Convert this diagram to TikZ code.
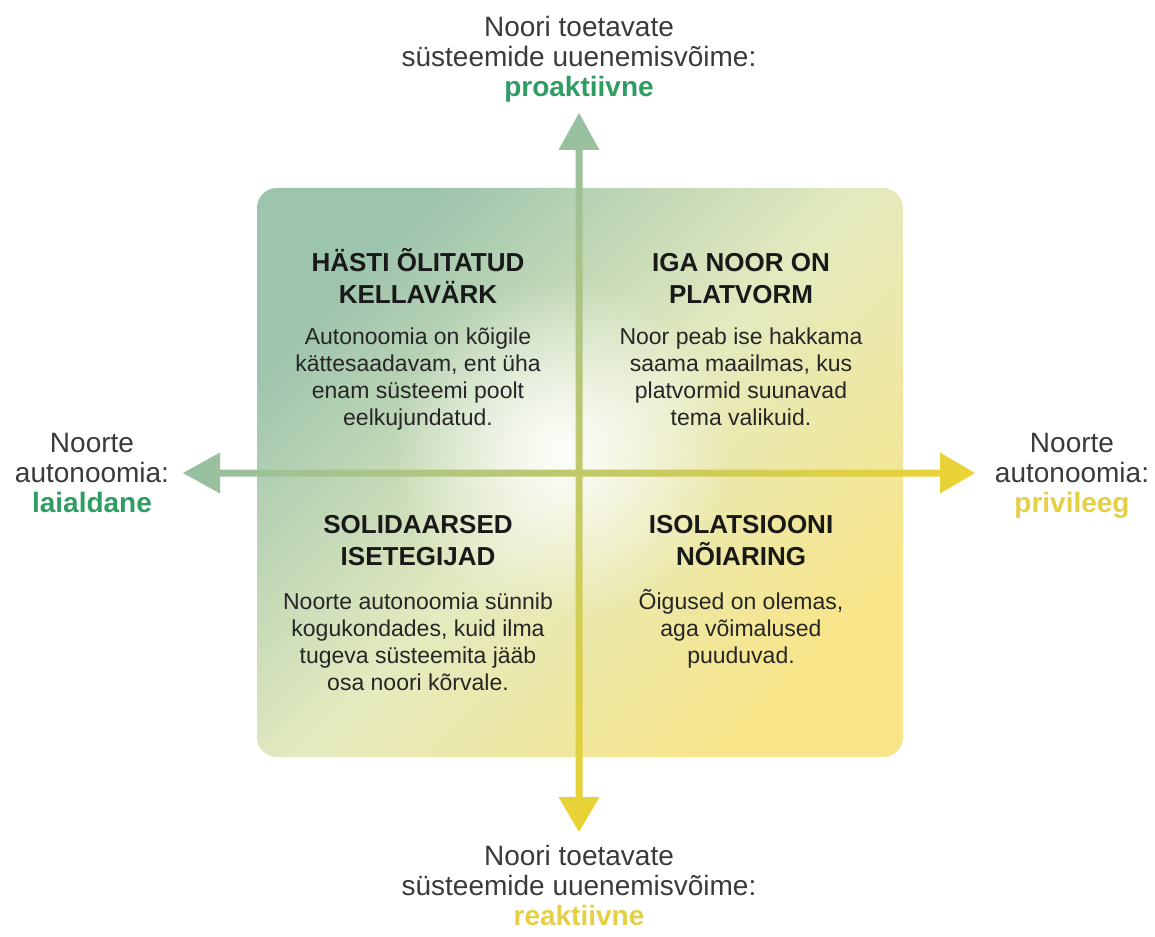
\documentclass[tikz,border=0pt]{standalone}
\usepackage{fontspec}
\setmainfont{Liberation Sans}
\usepackage{tikz}
\usetikzlibrary{fadings, calc}
\definecolor{boxgreen}{HTML}{9DC4AD}
\definecolor{boxmid}{HTML}{E4EABF}
\definecolor{boxyellow}{HTML}{F8E589}
\definecolor{axisgreen}{HTML}{96BFA2}
\definecolor{axisyellow}{HTML}{EBD332}
\definecolor{labelgreen}{HTML}{2E9C63}
\definecolor{labelyellow}{HTML}{E5D045}
\definecolor{labelgray}{HTML}{3A3A3A}
\tikzfading[name=glowfade, inner color=transparent!0, outer color=transparent!100]
\tikzset{
    quadbox/.style={rounded corners=10pt, minimum width=323pt, minimum height=284.5pt, inner sep=0pt},
    quadtitle/.style={font=\bfseries\fontsize{13}{16}\selectfont, align=center, anchor=base, inner sep=0pt, text=black!90},
    quadtext/.style={font=\fontsize{11.5}{13.35}\selectfont, align=center, anchor=base, inner sep=0pt, text=black!85},
    axislabel/.style={font=\fontsize{14}{15}\selectfont, align=center, anchor=base, inner sep=0pt, text=labelgray},
}
\newcommand{\Good}[1]{{\bfseries\color{labelgreen}#1}}
\newcommand{\Weak}[1]{{\bfseries\color{labelyellow}#1}}

\begin{document}
\begin{tikzpicture}[x=0.5pt, y=-0.5pt]
    \useasboundingbox (0,0) rectangle (1155,936);

    \coordinate (c) at (579,473);
    \coordinate (vtop) at (579,113);
    \coordinate (vbot) at (579,832);
    \coordinate (hlft) at (183,473);
    \coordinate (hrgt) at (975,473);

    % background square with soft glow
    \node[quadbox, top color=boxgreen, bottom color=boxyellow, middle color=boxmid, shading angle=45] (grid) at (580,472.5) {};
    \fill[white, path fading=glowfade, opacity=0.95] (560,450) circle (170);

    % axes
    \shade[top color=axisgreen, bottom color=axisyellow] (vtop) -- ++(20.5,37) -- ++(-17,0) -- ++(0,647) -- ++(17,0)
        -- (vbot) -- ++(-20.5,-35) -- ++(17,0) -- ++(0,-647) -- ++(-17,0) -- cycle;
    \shade[left color=axisgreen, right color=axisyellow] (hlft) -- ++(37,-20.5) -- ++(0,17) -- ++(720,0) -- ++(0,-17)
        -- (hrgt) -- ++(-35,20.5) -- ++(0,-17) -- ++(-720,0) -- ++(0,17) -- cycle;

    % quadrants (anchor on the last line)
    \node[quadtitle] (tlhead) at (418,303) {HÄSTI ÕLITATUD\\KELLAVÄRK};
    \node[quadtext] (tlbody) at (418,425) {Autonoomia on kõigile\\kättesaadavam, ent üha\\enam süsteemi poolt\\eelkujundatud.};
    \node[quadtitle] (trhead) at (741,303) {IGA NOOR ON\\PLATVORM};
    \node[quadtext] (trbody) at (741,425) {Noor peab ise hakkama\\saama maailmas, kus\\platvormid suunavad\\tema valikuid.};
    \node[quadtitle] (blhead) at (418,565) {SOLIDAARSED\\ISETEGIJAD};
    \node[quadtext] (blbody) at (418,690) {Noorte autonoomia sünnib\\kogukondades, kuid ilma\\tugeva süsteemita jääb\\osa noori kõrvale.};
    \node[quadtitle] (brhead) at (741,565) {ISOLATSIOONI\\NÕIARING};
    \node[quadtext] (brbody) at (741,663) {Õigused on olemas,\\aga võimalused\\puuduvad.};

    % axis labels
    \node[axislabel] (toplab) at (579,97) {Noori toetavate\\süsteemide uuenemisvõime:\\\Good{proaktiivne}};
    \node[axislabel] (botlab) at (579,925) {Noori toetavate\\süsteemide uuenemisvõime:\\\Weak{reaktiivne}};
    \node[axislabel] (lftlab) at (92,512) {Noorte\\autonoomia:\\\Good{laialdane}};
    \node[axislabel] (rgtlab) at (1072,512) {Noorte\\autonoomia:\\\Weak{privileeg}};
\end{tikzpicture}
\end{document}
